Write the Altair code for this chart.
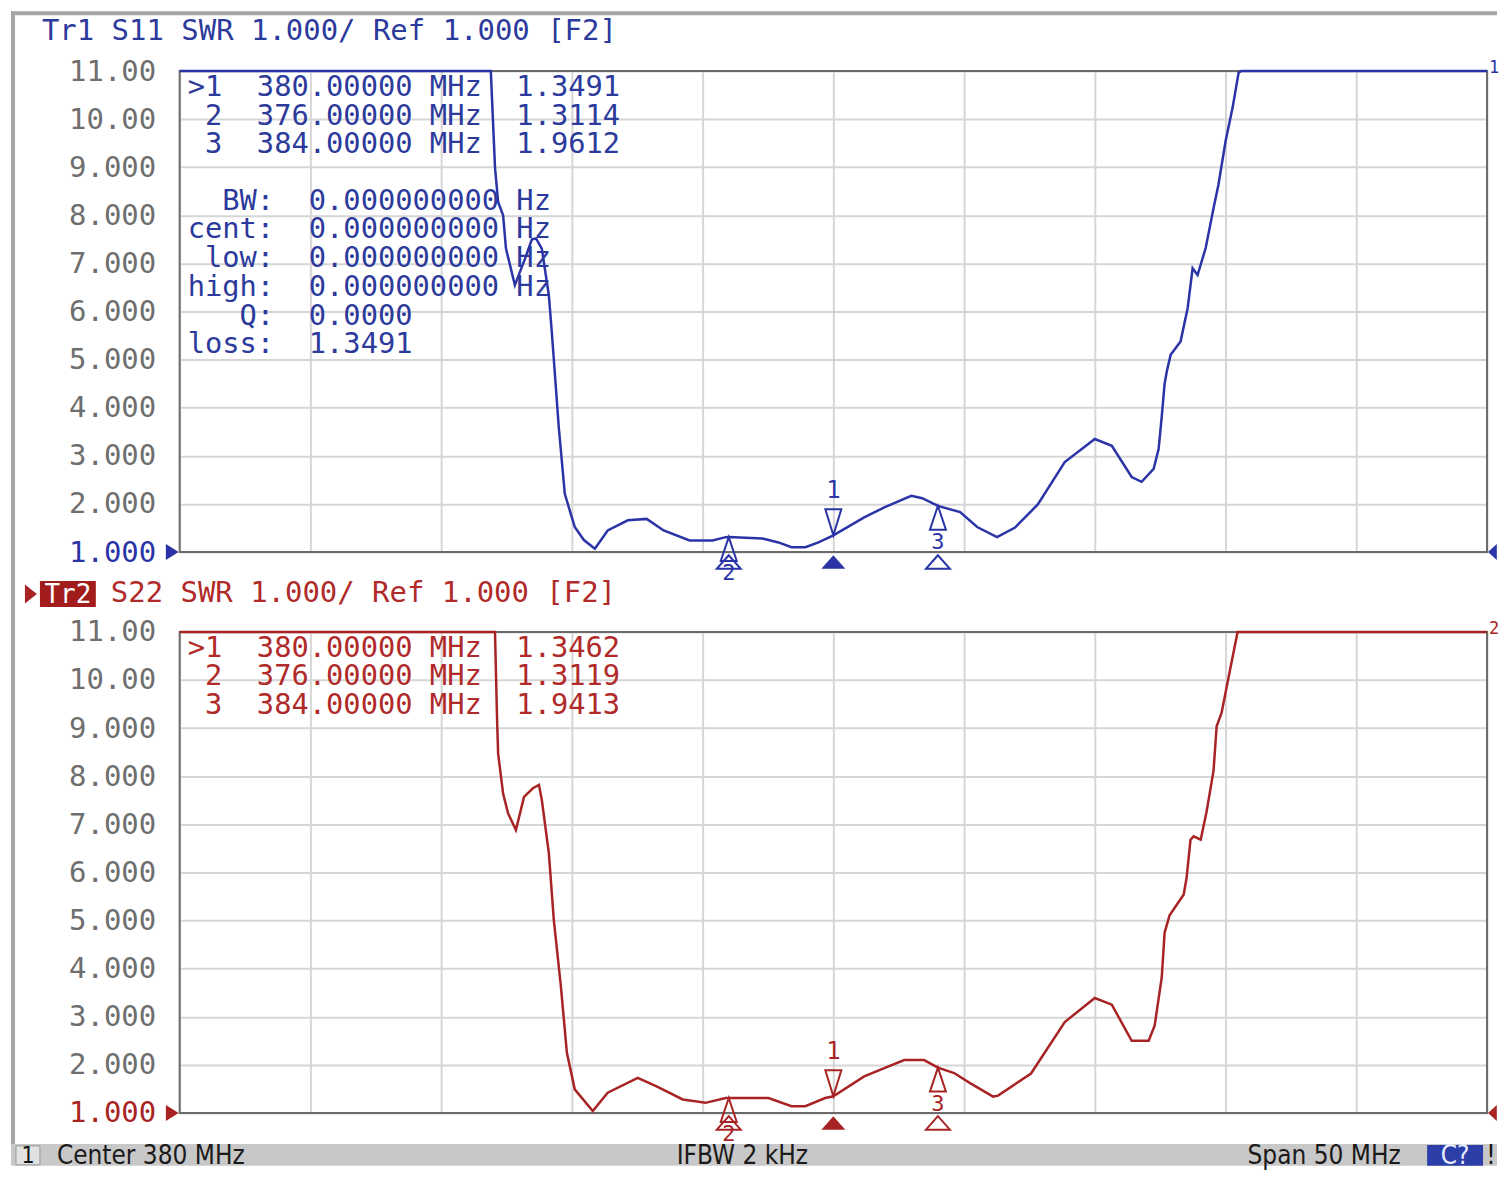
import altair as alt
import pandas as pd

# ---------------- data ----------------
freq_s11 = [355.0, 366.9, 366.98, 367.06, 367.18, 367.37, 367.48, 367.82, 368.21, 368.47,
            368.63, 368.85, 369.12, 369.24, 369.5, 369.73, 370.11, 370.46, 370.88, 371.37,
            372.14, 372.86, 373.51, 374.5, 375.38, 375.88, 376.0, 377.29, 377.9, 378.4,
            378.93, 379.43, 380.0, 381.18, 381.95, 382.98, 383.4, 384.0, 384.85, 385.5,
            386.26, 386.95, 387.82, 388.85, 390.0, 390.65, 391.41, 391.79, 392.25, 392.44,
            392.56, 392.67, 392.75, 392.9, 393.28, 393.55, 393.74, 393.93, 394.24, 394.54,
            394.73, 395.0, 395.27, 395.5, 395.6, 405.0]
swr_s11 = [11, 11, 10.0, 9.0, 8.28, 8.0, 7.31, 6.55, 7.1, 7.5,
           7.52, 7.31, 6.34, 5.52, 3.59, 2.21, 1.52, 1.25, 1.07, 1.45,
           1.66, 1.69, 1.45, 1.24, 1.24, 1.31, 1.311, 1.28, 1.2, 1.10,
           1.10, 1.2, 1.349, 1.72, 1.93, 2.17, 2.12, 1.961, 1.83, 1.52,
           1.31, 1.51, 1.99, 2.87, 3.35, 3.21, 2.56, 2.46, 2.73, 3.14,
           3.82, 4.50, 4.75, 5.10, 5.38, 6.07, 6.90, 6.76, 7.32, 8.15,
           8.64, 9.54, 10.24, 10.97, 11, 11]

freq_s22 = [355.0, 367.06, 367.14, 367.18, 367.37, 367.56, 367.86, 368.17, 368.51, 368.74,
            368.85, 369.12, 369.31, 369.58, 369.81, 370.11, 370.8, 371.37, 372.52, 373.24,
            374.24, 375.11, 375.88, 376.0, 377.52, 378.4, 378.93, 379.69, 380.0, 381.18,
            381.95, 382.71, 383.47, 384.0, 384.62, 385.23, 386.11, 386.3, 387.56, 388.85,
            390.0, 390.65, 391.41, 392.06, 392.29, 392.56, 392.67, 392.86, 393.4, 393.51,
            393.66, 393.78, 394.05, 394.27, 394.54, 394.66, 394.85, 395.11, 395.46, 405.0]
swr_s22 = [11, 11, 9.17, 8.47, 7.64, 7.23, 6.88, 7.57, 7.75, 7.82,
           7.51, 6.40, 5.01, 3.63, 2.25, 1.49, 1.04, 1.42, 1.73, 1.55,
           1.28, 1.21, 1.31, 1.312, 1.31, 1.14, 1.14, 1.31, 1.346, 1.76,
           1.93, 2.10, 2.10, 1.941, 1.83, 1.62, 1.34, 1.36, 1.82, 2.89,
           3.39, 3.25, 2.5, 2.5, 2.82, 3.82, 4.75, 5.11, 5.54, 5.89,
           6.68, 6.75, 6.68, 7.25, 8.11, 9.04, 9.32, 10.04, 11, 11]

marker_ids = ["1", "2", "3"]
marker_freq = [380.0, 376.0, 384.0]
marker_s11 = [1.3491, 1.3114, 1.9612]
marker_s22 = [1.3462, 1.3119, 1.9413]
loss_s11 = 1.3491

y_ticks = [1, 2, 3, 4, 5, 6, 7, 8, 9, 10, 11]
x_grid = [355, 360, 365, 370, 375, 380, 385, 390, 395, 400, 405]

title_s11 = "Tr1 S11 SWR 1.000/ Ref 1.000 [F2]"
title_s22 = "S22 SWR 1.000/ Ref 1.000 [F2]"
status_texts = ["Center 380 MHz", "IFBW 2 kHz", "Span 50 MHz"]

# ---------------- style ----------------
MONO = "DejaVu Sans Mono"
NARROW = "Liberation Sans Narrow, DejaVu Sans Condensed, sans-serif"
BLUE = "#2a34a6"
BLUE_T = "#2c3a9c"
RED = "#a82424"
RED_T = "#b02a2a"
GRID = "#d6d6d6"
BORDER = "#6b6b6b"
LABEL = "#6e6e6e"
FRAME = "#a6a6a6"
W, H = 1310, 482
RMAX = 1320          # right-most pixel used (relative to the plot's left edge)
NB = "\u00a0"
ZW = "\u200b"

DOWN = "M0,0L-1,-3.25L1,-3.25Z"
UP = "M0,0L-1,3L1,3Z"
AX = "M0,0.4L-1.5,2.1L1.5,2.1Z"
RIGHT = "M0,0L-1.6,-1L-1.6,1Z"
LEFT = "M0,0L1.1,-1L1.1,1Z"

one = pd.DataFrame({"k": [0]})
xs = alt.Scale(domain=[355, 405], nice=False, zero=False)
ys = alt.Scale(domain=[1, 11], nice=False, zero=False)


def nb(s):
    return ZW + s.replace(" ", NB)


def panel(freqs, swr, mvals, color, tcolor, trace_id, top):
    df = pd.DataFrame({"f": freqs, "v": swr, "i": list(range(len(freqs)))})
    mdf = pd.DataFrame({"f": marker_freq, "v": mvals, "lab": marker_ids})
    x_enc = alt.X("f:Q", scale=xs,
                  axis=alt.Axis(values=x_grid, labels=False, ticks=False, domain=False,
                                grid=True, gridColor=GRID, gridWidth=2, title=None))
    y_enc = alt.Y("v:Q", scale=ys,
                  axis=alt.Axis(values=y_ticks,
                                labelExpr="datum.value >= 10 ? format(datum.value, '.2f') : format(datum.value, '.3f')",
                                labelFont=MONO, labelFontSize=29,
                                labelColor={"condition": {"test": "datum.value == 1", "value": color},
                                            "value": LABEL},
                                labelPadding=24, ticks=False, domain=False,
                                grid=True, gridColor=GRID, gridWidth=2, title=None))

    base_grid = alt.Chart(df).mark_line(opacity=0).encode(x=x_enc, y=y_enc)
    border = alt.Chart(one).mark_rect(fillOpacity=0, stroke=BORDER, strokeWidth=2).encode(
        x=alt.value(0), x2=alt.value(W), y=alt.value(0), y2=alt.value(H))
    line = alt.Chart(df).mark_line(color=color, strokeWidth=2.5).encode(
        x=x_enc, y=y_enc, order="i:Q")

    m1 = mdf.iloc[:1]
    m23 = mdf.iloc[1:]
    tri1 = alt.Chart(m1).mark_point(shape=DOWN, size=256, filled=False, color=color,
                                    strokeWidth=2, opacity=1).encode(x=x_enc, y=y_enc)
    lab1 = alt.Chart(m1).mark_text(dy=-44, font=MONO, fontSize=24, color=color).encode(
        x=x_enc, y=y_enc, text="lab:N")
    tri23 = alt.Chart(m23).mark_point(shape=UP, size=256, filled=False, color=color,
                                      strokeWidth=2, opacity=1).encode(x=x_enc, y=y_enc)
    lab23 = alt.Chart(m23).mark_text(dy=36, font=MONO, fontSize=22, color=color).encode(
        x=x_enc, y=y_enc, text="lab:N")
    ax1 = alt.Chart(m1).mark_point(shape=AX, size=256, filled=True, color=color,
                                   opacity=1).encode(x=x_enc, y=alt.value(H))
    ax23 = alt.Chart(m23).mark_point(shape=AX, size=256, filled=False, color=color,
                                     strokeWidth=2, opacity=1).encode(x=x_enc, y=alt.value(H))

    ref_l = alt.Chart(one).mark_point(shape=RIGHT, size=256, filled=True, color=color,
                                      opacity=1).encode(x=alt.value(-1), y=alt.value(H))
    ref_r = alt.Chart(one).mark_point(shape=LEFT, size=256, filled=True, color=color,
                                      opacity=1).encode(x=alt.value(W + 1), y=alt.value(H))
    tid = alt.Chart(one).mark_text(align="left", baseline="middle", font=MONO, fontSize=17,
                                   color=color).encode(x=alt.value(W + 2), y=alt.value(-3),
                                                       text=alt.value(trace_id))

    rows = []
    for lab, f, v in zip(marker_ids, marker_freq, mvals):
        head = (">" if lab == "1" else " ") + lab
        rows.append(nb(f"{head}  {f:.5f} MHz  {v:.4f}"))
    table = alt.Chart(one).mark_text(align="left", baseline="top", font=MONO, fontSize=28.8,
                                     lineHeight=28.6, color=tcolor).encode(
        x=alt.value(8), y=alt.value(2), text=alt.value(rows))

    layers = [base_grid, border, line, tri1, lab1, tri23, lab23, ax1, ax23, ref_l, ref_r, tid, table]

    if top:
        bw = [nb("  BW:  0.000000000 Hz"), nb("cent:  0.000000000 Hz"),
              nb(" low:  0.000000000 Hz"), nb("high:  0.000000000 Hz"),
              nb("   Q:  0.0000"), nb(f"loss:  {loss_s11:.4f}")]
        bwt = alt.Chart(one).mark_text(align="left", baseline="top", font=MONO, fontSize=28.8,
                                       lineHeight=28.8, color=tcolor).encode(
            x=alt.value(8), y=alt.value(116), text=alt.value(bw))
        ttl = alt.Chart(one).mark_text(align="left", baseline="middle", font=MONO, fontSize=29,
                                       color=tcolor).encode(
            x=alt.value(-138), y=alt.value(-40), text=alt.value(title_s11))
        fr_top = alt.Chart(one).mark_rect(color=FRAME).encode(
            x=alt.value(-169), x2=alt.value(RMAX), y=alt.value(-60), y2=alt.value(-56))
        fr_left = alt.Chart(one).mark_rect(color=FRAME).encode(
            x=alt.value(-169), x2=alt.value(-165), y=alt.value(-60), y2=alt.value(1075))
        layers = [fr_top, fr_left] + layers + [bwt, ttl]
    else:
        arrow = alt.Chart(one).mark_point(shape="M0,0L-1.5,-1.2L-1.5,1.2Z", size=256, filled=True,
                                          color=RED, opacity=1).encode(
            x=alt.value(-143), y=alt.value(-38))
        box = alt.Chart(one).mark_rect(color="#a31c1c").encode(
            x=alt.value(-140), x2=alt.value(-84), y=alt.value(-51), y2=alt.value(-25))
        boxt = alt.Chart(one).mark_text(align="center", baseline="middle", font=MONO, fontSize=26,
                                        color="white").encode(
            x=alt.value(-112), y=alt.value(-37), text=alt.value("Tr2"))
        ttl = alt.Chart(one).mark_text(align="left", baseline="middle", font=MONO, fontSize=29,
                                       color=tcolor).encode(
            x=alt.value(-69), y=alt.value(-39), text=alt.value(title_s22))
        # status bar (kept short enough that the page does not overflow the window)
        SB0, SB1, SBC = 513, 535, 525
        sb = alt.Chart(one).mark_rect(color="#c8c8c8").encode(
            x=alt.value(-169), x2=alt.value(RMAX), y=alt.value(SB0), y2=alt.value(SB1))
        sb1 = alt.Chart(one).mark_rect(color="#e2e2e2", stroke="#9a9a9a", strokeWidth=1).encode(
            x=alt.value(-164), x2=alt.value(-140), y=alt.value(SB0 + 2), y2=alt.value(SB1 - 1))
        sb1t = alt.Chart(one).mark_text(align="center", baseline="middle", font=NARROW,
                                        fontSize=23, color="#111").encode(
            x=alt.value(-152), y=alt.value(SBC), text=alt.value("1"))
        st_pos = [-123, 498, 1070]
        sts = [alt.Chart(one).mark_text(align="left", baseline="middle", font=NARROW, fontSize=26,
                                        color="#1a1a1a").encode(
            x=alt.value(p), y=alt.value(SBC), text=alt.value(t)) for p, t in zip(st_pos, status_texts)]
        cbox = alt.Chart(one).mark_rect(color="#2c3ea8").encode(
            x=alt.value(1250), x2=alt.value(1306), y=alt.value(SB0 + 1), y2=alt.value(SB1))
        cboxt = alt.Chart(one).mark_text(align="center", baseline="middle", font=NARROW,
                                         fontSize=26, color="#e8ecff").encode(
            x=alt.value(1278), y=alt.value(SBC), text=alt.value("C?"))
        excl = alt.Chart(one).mark_text(align="center", baseline="middle", font=NARROW,
                                        fontSize=26, color="#111").encode(
            x=alt.value(1314), y=alt.value(SBC), text=alt.value("!"))
        layers = layers + [arrow, box, boxt, ttl, sb, sb1, sb1t] + sts + [cbox, cboxt, excl]

    return alt.layer(*layers).properties(width=W, height=H)


top = panel(freq_s11, swr_s11, marker_s11, BLUE, BLUE_T, "1", True)
bottom = panel(freq_s22, swr_s22, marker_s22, RED, RED_T, "2", False)

chart = alt.vconcat(top, bottom, spacing=80, bounds="flush",
                    padding={"left": 3, "top": 2, "right": 0, "bottom": 0},
                    background="white").configure_view(strokeWidth=0)

chart.save("out.html", embed_options={"renderer": "svg", "actions": False})
